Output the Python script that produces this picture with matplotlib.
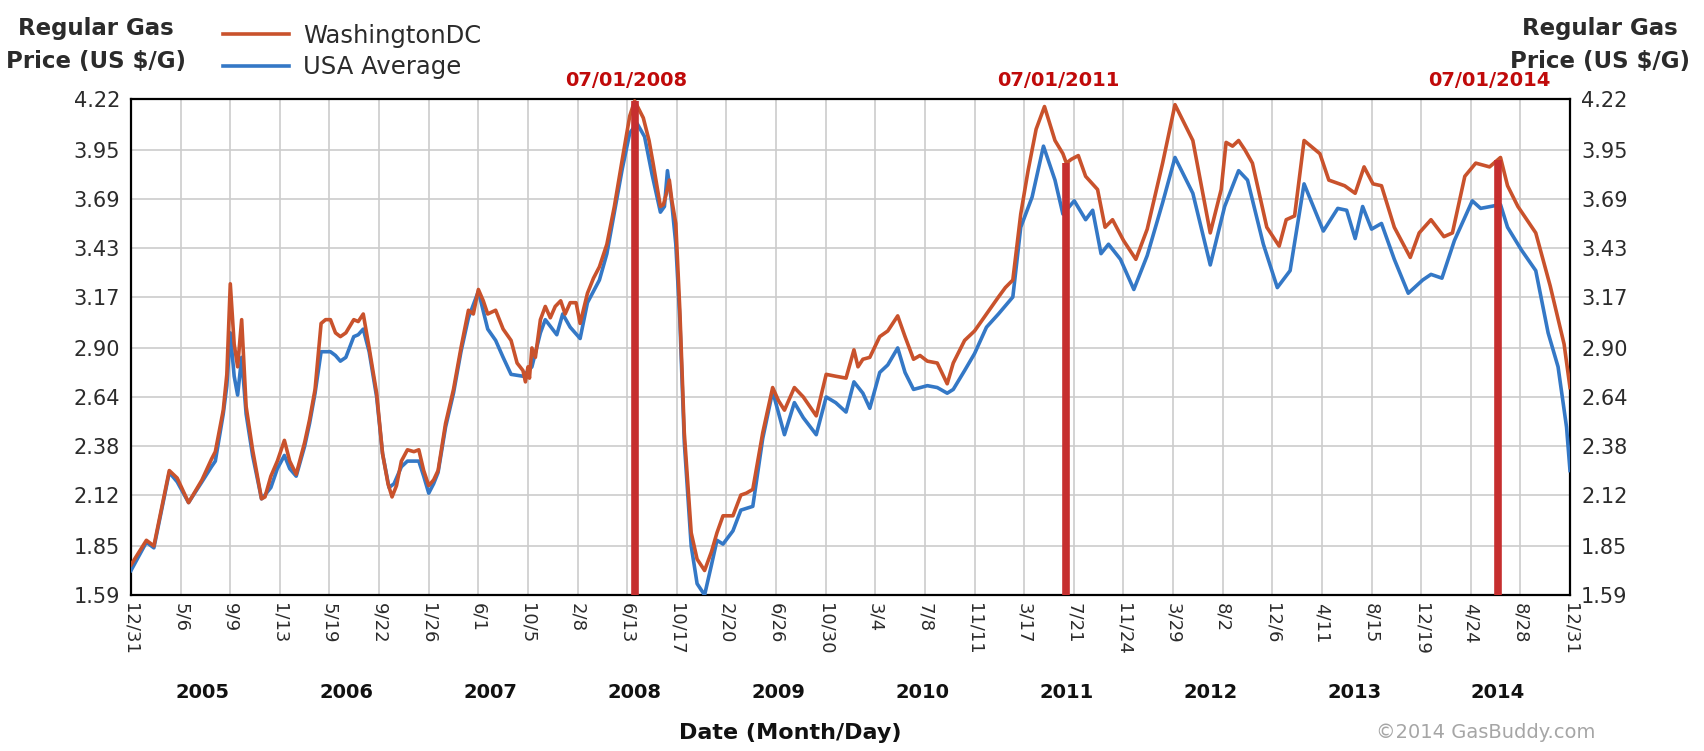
import numpy as np
import matplotlib
matplotlib.use("Agg")
import matplotlib.pyplot as plt
import matplotlib.transforms as mtransforms

# Weekly regular gas prices (decimal year, US $/gal)
dc_x = [2005.000, 2005.107, 2005.159, 2005.266, 2005.321, 2005.400, 2005.493, 2005.559, 2005.586, 2005.641,
        2005.666, 2005.690, 2005.717, 2005.741, 2005.769, 2005.800, 2005.845, 2005.907, 2005.931, 2005.972,
        2006.017, 2006.066, 2006.103, 2006.148, 2006.207, 2006.241, 2006.279, 2006.321, 2006.352, 2006.386,
        2006.421, 2006.455, 2006.493, 2006.548, 2006.579, 2006.614, 2006.655, 2006.707, 2006.748, 2006.786,
        2006.814, 2006.845, 2006.879, 2006.921, 2006.966, 2007.000, 2007.034, 2007.069, 2007.103, 2007.134,
        2007.186, 2007.241, 2007.293, 2007.345, 2007.379, 2007.414, 2007.448, 2007.479, 2007.534, 2007.586,
        2007.641, 2007.683, 2007.724, 2007.741, 2007.759, 2007.769, 2007.786, 2007.810, 2007.845, 2007.879,
        2007.914, 2007.948, 2007.986, 2008.017, 2008.052, 2008.093, 2008.121, 2008.172, 2008.214, 2008.255,
        2008.307, 2008.359, 2008.414, 2008.466, 2008.500, 2008.560, 2008.600, 2008.628, 2008.679, 2008.700,
        2008.721, 2008.741, 2008.759, 2008.786, 2008.814, 2008.845, 2008.893, 2008.934, 2008.986, 2009.034,
        2009.072, 2009.114, 2009.183, 2009.238, 2009.276, 2009.321, 2009.390, 2009.459, 2009.500, 2009.541,
        2009.610, 2009.672, 2009.762, 2009.831, 2009.897, 2009.969, 2010.024, 2010.052, 2010.086, 2010.134,
        2010.203, 2010.259, 2010.328, 2010.379, 2010.438, 2010.483, 2010.534, 2010.603, 2010.672, 2010.714,
        2010.793, 2010.862, 2010.945, 2011.028, 2011.076, 2011.128, 2011.183, 2011.234, 2011.290, 2011.348,
        2011.421, 2011.476, 2011.500, 2011.534, 2011.583, 2011.634, 2011.717, 2011.769, 2011.821, 2011.897,
        2011.983, 2012.062, 2012.169, 2012.255, 2012.379, 2012.500, 2012.576, 2012.610, 2012.655, 2012.697,
        2012.741, 2012.793, 2012.893, 2012.979, 2013.028, 2013.086, 2013.152, 2013.262, 2013.324, 2013.434,
        2013.507, 2013.569, 2013.631, 2013.690, 2013.779, 2013.890, 2013.952, 2014.034, 2014.124, 2014.183,
        2014.269, 2014.345, 2014.441, 2014.517, 2014.566, 2014.638, 2014.762, 2014.862, 2014.959, 2015.000]
dc_price = [1.75, 1.88, 1.85, 2.25, 2.21, 2.08, 2.20, 2.31, 2.35, 2.57,
            2.76, 3.24, 2.92, 2.80, 3.05, 2.59, 2.36, 2.10, 2.11, 2.22,
            2.30, 2.41, 2.30, 2.23, 2.40, 2.52, 2.68, 3.03, 3.05, 3.05,
            2.98, 2.96, 2.98, 3.05, 3.04, 3.08, 2.90, 2.66, 2.34, 2.18,
            2.11, 2.17, 2.30, 2.36, 2.35, 2.36, 2.25, 2.17, 2.20, 2.25,
            2.50, 2.68, 2.90, 3.10, 3.08, 3.21, 3.15, 3.08, 3.10, 3.00,
            2.94, 2.82, 2.78, 2.72, 2.80, 2.74, 2.90, 2.85, 3.05, 3.12,
            3.06, 3.12, 3.15, 3.08, 3.14, 3.14, 3.03, 3.19, 3.27, 3.33,
            3.45, 3.65, 3.90, 4.13, 4.21, 4.12, 4.00, 3.88, 3.65, 3.66,
            3.72, 3.79, 3.68, 3.56, 3.10, 2.45, 1.92, 1.78, 1.72, 1.82,
            1.92, 2.01, 2.01, 2.12, 2.13, 2.15, 2.45, 2.69, 2.62, 2.57,
            2.69, 2.64, 2.54, 2.76, 2.75, 2.74, 2.89, 2.80, 2.84, 2.85,
            2.96, 2.99, 3.07, 2.96, 2.84, 2.86, 2.83, 2.82, 2.71, 2.82,
            2.94, 2.99, 3.08, 3.17, 3.22, 3.26, 3.61, 3.84, 4.06, 4.18,
            4.00, 3.93, 3.88, 3.90, 3.92, 3.81, 3.74, 3.54, 3.58, 3.47,
            3.37, 3.53, 3.88, 4.19, 4.00, 3.51, 3.74, 3.99, 3.97, 4.00,
            3.95, 3.88, 3.54, 3.44, 3.58, 3.60, 4.00, 3.93, 3.79, 3.76,
            3.72, 3.86, 3.77, 3.76, 3.54, 3.38, 3.51, 3.58, 3.49, 3.51,
            3.81, 3.88, 3.86, 3.91, 3.76, 3.65, 3.51, 3.23, 2.92, 2.69]

usa_x = [2005.000, 2005.107, 2005.159, 2005.266, 2005.321, 2005.400, 2005.493, 2005.559, 2005.586, 2005.641,
         2005.666, 2005.690, 2005.717, 2005.741, 2005.769, 2005.800, 2005.845, 2005.907, 2005.931, 2005.972,
         2006.017, 2006.066, 2006.103, 2006.148, 2006.207, 2006.241, 2006.279, 2006.321, 2006.352, 2006.386,
         2006.421, 2006.455, 2006.493, 2006.548, 2006.579, 2006.614, 2006.655, 2006.707, 2006.748, 2006.793,
         2006.828, 2006.879, 2006.921, 2006.966, 2007.000, 2007.034, 2007.069, 2007.103, 2007.134, 2007.186,
         2007.241, 2007.293, 2007.345, 2007.414, 2007.479, 2007.534, 2007.586, 2007.641, 2007.724, 2007.786,
         2007.845, 2007.879, 2007.959, 2008.000, 2008.052, 2008.121, 2008.172, 2008.255, 2008.307, 2008.359,
         2008.414, 2008.466, 2008.517, 2008.569, 2008.621, 2008.679, 2008.707, 2008.728, 2008.759, 2008.786,
         2008.814, 2008.845, 2008.893, 2008.934, 2008.986, 2009.034, 2009.072, 2009.114, 2009.183, 2009.238,
         2009.321, 2009.390, 2009.459, 2009.541, 2009.610, 2009.672, 2009.762, 2009.831, 2009.897, 2009.969,
         2010.024, 2010.086, 2010.134, 2010.203, 2010.259, 2010.328, 2010.379, 2010.438, 2010.534, 2010.603,
         2010.672, 2010.714, 2010.793, 2010.862, 2010.945, 2011.028, 2011.128, 2011.183, 2011.262, 2011.341,
         2011.421, 2011.476, 2011.555, 2011.634, 2011.683, 2011.741, 2011.793, 2011.876, 2011.969, 2012.062,
         2012.169, 2012.255, 2012.379, 2012.500, 2012.600, 2012.697, 2012.759, 2012.869, 2012.966, 2013.055,
         2013.152, 2013.286, 2013.386, 2013.448, 2013.507, 2013.559, 2013.621, 2013.690, 2013.779, 2013.876,
         2013.976, 2014.034, 2014.110, 2014.197, 2014.321, 2014.379, 2014.517, 2014.566, 2014.662, 2014.762,
         2014.848, 2014.917, 2014.976, 2015.000]
usa_price = [1.72, 1.87, 1.84, 2.24, 2.19, 2.08, 2.19, 2.27, 2.30, 2.55,
             2.70, 2.98, 2.75, 2.65, 2.85, 2.55, 2.33, 2.10, 2.12, 2.16,
             2.26, 2.33, 2.26, 2.22, 2.38, 2.50, 2.66, 2.88, 2.88, 2.88,
             2.86, 2.83, 2.85, 2.96, 2.97, 3.00, 2.88, 2.64, 2.34, 2.16,
             2.18, 2.27, 2.30, 2.30, 2.30, 2.22, 2.13, 2.18, 2.24, 2.48,
             2.66, 2.88, 3.06, 3.20, 3.00, 2.94, 2.85, 2.76, 2.75, 2.80,
             2.98, 3.05, 2.97, 3.08, 3.01, 2.95, 3.14, 3.26, 3.40, 3.62,
             3.85, 4.04, 4.09, 4.02, 3.82, 3.62, 3.65, 3.84, 3.66, 3.45,
             3.05, 2.40, 1.85, 1.65, 1.59, 1.75, 1.88, 1.86, 1.93, 2.04,
             2.06, 2.42, 2.67, 2.44, 2.61, 2.53, 2.44, 2.64, 2.61, 2.56,
             2.72, 2.66, 2.58, 2.77, 2.81, 2.90, 2.77, 2.68, 2.70, 2.69,
             2.66, 2.68, 2.78, 2.87, 3.01, 3.08, 3.17, 3.54, 3.70, 3.97,
             3.79, 3.61, 3.68, 3.58, 3.63, 3.40, 3.45, 3.37, 3.21, 3.39,
             3.67, 3.91, 3.72, 3.34, 3.65, 3.84, 3.79, 3.45, 3.22, 3.31,
             3.77, 3.52, 3.64, 3.63, 3.48, 3.65, 3.53, 3.56, 3.37, 3.19,
             3.26, 3.29, 3.27, 3.47, 3.68, 3.64, 3.66, 3.54, 3.42, 3.31,
             2.98, 2.80, 2.48, 2.25]

price_ticks = [1.59, 1.85, 2.12, 2.38, 2.64, 2.90, 3.17, 3.43, 3.69, 3.95, 4.22]
date_labels = ["12/31", "5/6", "9/9", "1/13", "5/19", "9/22", "1/26", "6/1", "10/5", "2/8",
               "6/13", "10/17", "2/20", "6/26", "10/30", "3/4", "7/8", "11/11", "3/17", "7/21",
               "11/24", "3/29", "8/2", "12/6", "4/11", "8/15", "12/19", "4/24", "8/28", "12/31"]
years = [2005, 2006, 2007, 2008, 2009, 2010, 2011, 2012, 2013, 2014]
event_dates = [2008.5, 2011.5, 2014.5]
event_labels = ["07/01/2008", "07/01/2011", "07/01/2014"]

dc_color = "#C9522C"
usa_color = "#3478C6"
event_color = "#C62F2F"
text_color = "#2b2b2b"

fig = plt.figure(figsize=(17.04, 7.51), dpi=100)
ax = fig.add_axes([131 / 1704, 1 - 595 / 751, (1570 - 131) / 1704, (595 - 99) / 751])

l_usa, = ax.plot(usa_x, usa_price, color=usa_color, lw=2.6, label="USA Average", zorder=3)
l_dc, = ax.plot(dc_x, dc_price, color=dc_color, lw=2.6, label="WashingtonDC", zorder=4)

# red markers at July 1st, up to the DC price on that day
for d, lab in zip(event_dates, event_labels):
    top = np.interp(d, dc_x, dc_price)
    ax.vlines(d, price_ticks[0], top, color=event_color, lw=5.5, zorder=5)
    ax.annotate(lab, xy=(d, 1), xycoords=("data", "axes fraction"), xytext=(-6, 13),
                textcoords="offset points", ha="center", va="center",
                color="#C00A0A", fontsize=14, fontweight="bold", annotation_clip=False)

ax.set_xlim(years[0], years[-1] + 1)
ax.set_ylim(price_ticks[0], price_ticks[-1])
ax.set_xticks(np.linspace(years[0], years[-1] + 1, len(date_labels)))
ax.set_xticklabels(date_labels, rotation=270, ha="center", va="top", fontsize=13, color=text_color)
ax.set_yticks(price_ticks)
ax.set_yticklabels([f"{p:.2f}" for p in price_ticks], fontsize=15, color=text_color)
ax.tick_params(axis="y", length=0, pad=8, labelleft=True, labelright=True)
ax.tick_params(axis="x", length=0, pad=6)
ax.grid(True, color="#cccccc", lw=1.2, zorder=0)
for s in ax.spines.values():
    s.set_linewidth(1.6)
    s.set_color("black")

# year labels under the month/day ticks
trans = mtransforms.blended_transform_factory(ax.transData, fig.transFigure)
for y in years:
    ax.text(y + 0.5, 1 - 692 / 751, str(y), transform=trans, ha="center", va="center",
            fontsize=14, fontweight="bold", color="#111111")

fig.text(790 / 1704, 1 - 733 / 751, "Date (Month/Day)", ha="center", va="center",
         fontsize=16, fontweight="bold", color="#111111")
fig.text(1486 / 1704, 1 - 733 / 751, "\u00a92014 GasBuddy.com", ha="center", va="center",
         fontsize=14, color="#a6a6a6")

fig.text(96 / 1704, 1 - 45 / 751, "Regular Gas\nPrice (US $/G)", ha="center", va="center",
         fontsize=16.5, fontweight="bold", color=text_color, linespacing=1.55)
fig.text(1600 / 1704, 1 - 45 / 751, "Regular Gas\nPrice (US $/G)", ha="center", va="center",
         fontsize=16.5, fontweight="bold", color=text_color, linespacing=1.55)

fig.legend(handles=[l_dc, l_usa], loc="upper left", bbox_to_anchor=(223 / 1704, 1 - 24 / 751),
           frameon=False, fontsize=17.5, handlelength=2.7, handletextpad=0.6,
           labelspacing=0.3, borderpad=0, borderaxespad=0, labelcolor=text_color)

fig.savefig("out.png", dpi=100)
